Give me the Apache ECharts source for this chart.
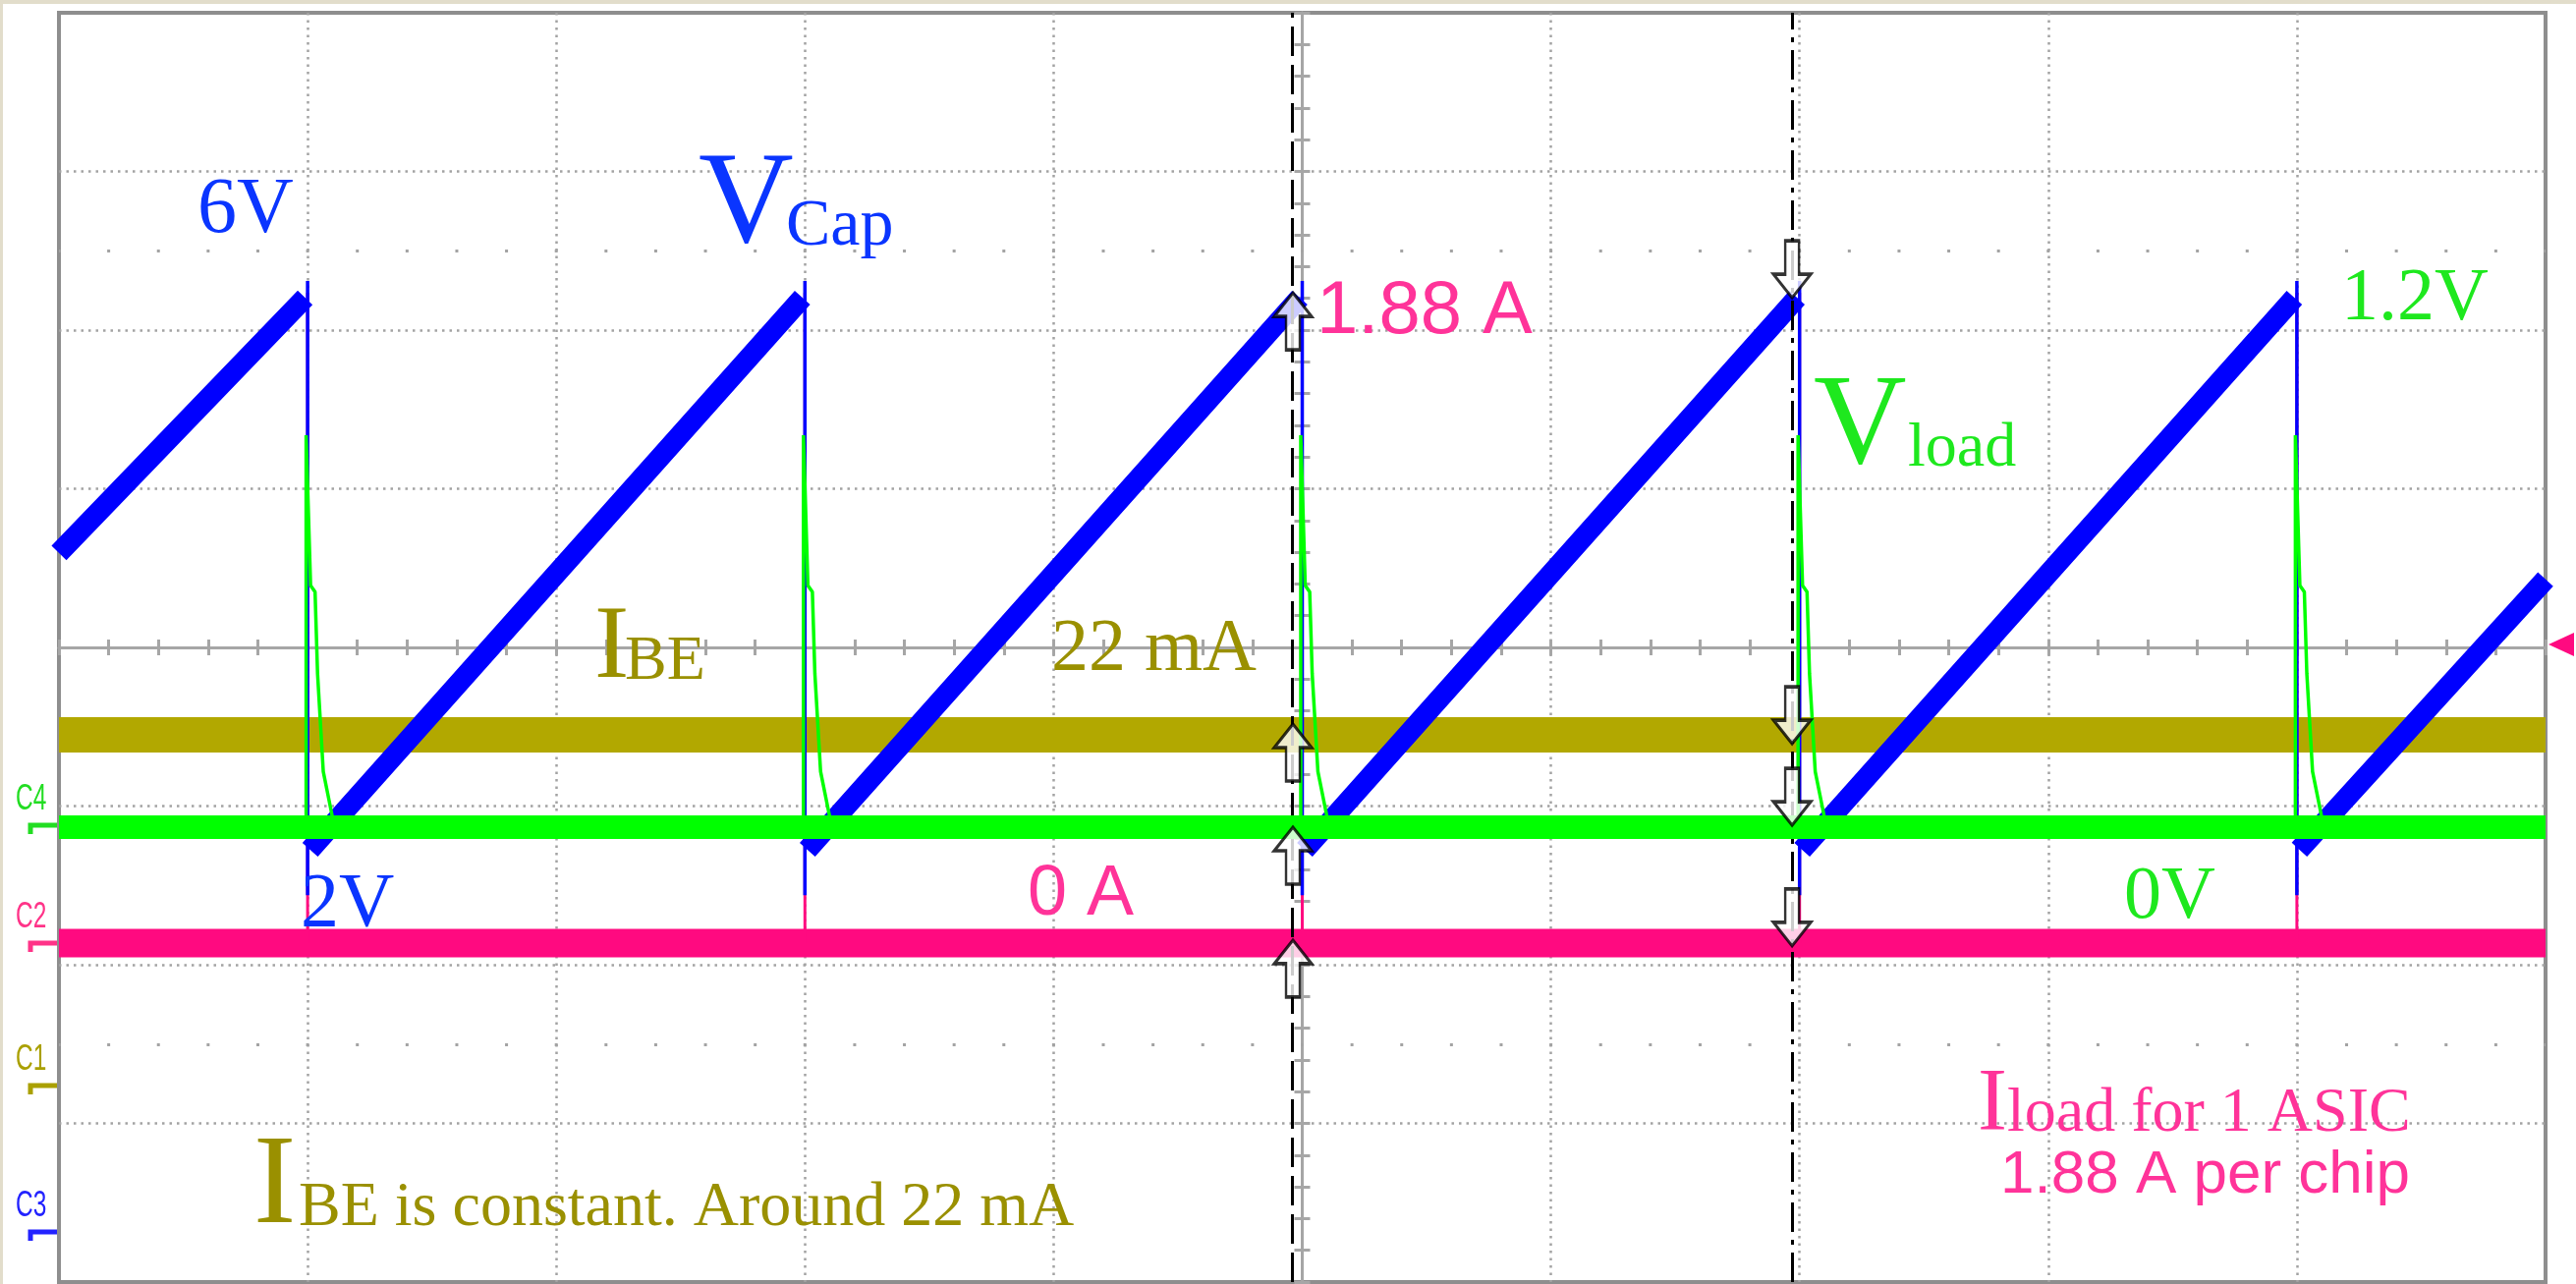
<!DOCTYPE html>
<html>
<head>
<meta charset="utf-8">
<script src="https://cdn.jsdelivr.net/npm/echarts@6/dist/echarts.min.js"></script>
<style>
  html, body { margin: 0; padding: 0; background: #ffffff; }
  #chart { width: 2622px; height: 1307px; }
</style>
</head>
<body>
<div id="chart"></div>
<script>
// ---------------- trace data (time in divisions relative to trigger, -5 … 5) ----------------
const edgeTimes = [-4, -2, 0, 2, 4];              // capacitor discharge instants

// V_Cap charging ramps (V): start / end of each ramp
const vcapRamps = [
  [[-5.00, 4.15], [-4.01, 6.00]],
  [[-3.99, 2.00], [-2.01, 6.00]],
  [[-1.99, 2.00], [-0.01, 6.00]],
  [[ 0.01, 2.00], [ 1.99, 6.00]],
  [[ 2.01, 2.00], [ 3.99, 6.00]],
  [[ 4.01, 2.00], [ 5.00, 3.96]]
];
const vcapDrop = [6.12, 1.67];                     // fast discharge edge, top and bottom (V)

// V_load: settled level and the pulse following each discharge
const vloadLevel = 0;                              // V
const vloadPulseT = [-0.006, -0.006, 0.012, 0.030, 0.040, 0.063, 0.100, 0.145];
const vloadPulseV = [0.00, 1.20, 0.74, 0.72, 0.47, 0.17, 0.03, 0.00];

// I_load for one ASIC (A)
const iloadLevel = 0;
const iloadPeak = 1.88;

// I_BE (mA)
const ibeLevel = 22;

// measurement cursors (div) and their arrow markers (vertical div)
const cursorT = [-0.0375, 1.970];
const cursor1Arrows = [2.235, -0.483, -1.133, -1.845];
const cursor2Arrows = [2.204, -0.607, -1.121, -1.882];

// ---------------- screen placement of each channel ----------------
// zeroDiv: where the channel's zero sits (divisions from centre), perDiv: units per division
const CH = {
  vcap:  { zeroDiv: -3.015, perDiv: 1.1495 },
  vload: { zeroDiv: -1.133, perDiv: 0.4857 },
  iload: { zeroDiv: -1.864, perDiv: 0.4587 },
  ibe:   { zeroDiv: -2.700, perDiv: 10.24 }
};
function chAxis(c) {
  return {
    type: 'value', show: false, position: 'left',
    min: (-4 - c.zeroDiv) * c.perDiv, max: (4 - c.zeroDiv) * c.perDiv,
    splitLine: { show: false }
  };
}

const COL = {
  blue: '#0000ff', green: '#00ff00', pink: '#ff0a80', olive: '#b2a800',
  blueTxt: '#0a35ff', greenTxt: '#1ee81e', pinkTxt: '#ff3399', oliveTxt: '#9a9000'
};

// ---------------- series data assembled from the values above ----------------
const GAP = ['-', '-'];
const vcapRampData = [];
vcapRamps.forEach(seg => { vcapRampData.push(seg[0], seg[1], GAP); });
const vcapDropData = [];
edgeTimes.forEach(t => { vcapDropData.push([t, vcapDrop[0]], [t, vcapDrop[1]], GAP); });
const vloadPulseData = [];
edgeTimes.forEach(t => {
  vloadPulseT.forEach((dt, i) => vloadPulseData.push([t + dt, vloadPulseV[i]]));
  vloadPulseData.push(GAP);
});
const iloadSpikeData = [];
edgeTimes.forEach(t => { iloadSpikeData.push([t, iloadLevel], [t, iloadPeak], [t, iloadLevel], GAP); });

// ---------------- graticule styling ----------------
const GRID_DOT = { color: '#a3a3a3', width: 2.5, type: [2.5, 5] };
const CENTER = { color: '#a6a6a6', width: 3 };

function graticuleX(inside, withSplit) {
  return {
    type: 'value', min: -5, max: 5, interval: 1, position: 'bottom',
    axisLine: { show: true, onZero: true, onZeroAxisIndex: 0, lineStyle: CENTER },
    axisTick: { show: true, inside: inside, length: 8, lineStyle: CENTER },
    minorTick: { show: true, splitNumber: 5, length: 8, lineStyle: CENTER },
    axisLabel: { show: false },
    splitLine: { show: withSplit, showMinLine: false, showMaxLine: false, lineStyle: GRID_DOT }
  };
}
function graticuleY(inside, withSplit) {
  return {
    type: 'value', min: -4, max: 4, interval: 1, position: 'left',
    axisLine: { show: true, onZero: true, onZeroAxisIndex: 0, lineStyle: CENTER },
    axisTick: { show: true, inside: inside, length: 8, lineStyle: CENTER },
    minorTick: { show: true, splitNumber: 5, length: 8, lineStyle: CENTER },
    axisLabel: { show: false },
    splitLine: { show: withSplit, showMinLine: false, showMaxLine: false, lineStyle: GRID_DOT }
  };
}

// ---------------- annotation text ----------------
const SERIF = '"Liberation Serif", "Times New Roman", serif';
const SANS = '"Liberation Sans", Arial, sans-serif';
function txt(text, x, baseline, size, color, family) {
  const k = family === SANS ? 0.33 : 0.31;
  return {
    type: 'text', x: x, y: baseline - k * size, z: 100, silent: true,
    style: { text: text, font: size + 'px ' + family, fill: color,
             align: 'left', verticalAlign: 'middle', textAlign: 'left', textVerticalAlign: 'middle' }
  };
}
function chanTag(text, color, y) {
  return [
    { type: 'text', x: 16, y: y - 26, z: 100, silent: true, scaleX: 0.68,
      style: { text: text, font: '36px ' + SANS, fill: color, align: 'left', verticalAlign: 'middle' } },
    { type: 'polyline', z: 100, silent: true,
      shape: { points: [[31, y + 9], [31, y], [58, y]] },
      style: { stroke: color, lineWidth: 5, fill: null } }
  ];
}

const graphics = [
  { type: 'rect', z: -10, silent: true, shape: { x: 0, y: 0, width: 2622, height: 4 }, style: { fill: '#e2ddcb' } },
  { type: 'rect', z: -10, silent: true, shape: { x: 0, y: 0, width: 3, height: 1307 }, style: { fill: '#e2ddcb' } },
  { type: 'polygon', z: 100, silent: true,
    shape: { points: [[2594, 656], [2620, 644], [2620, 668]] }, style: { fill: COL.pink } },

  txt('6V', 201, 240, 80, COL.blueTxt, SERIF),
  txt('V', 711, 252, 134, COL.blueTxt, SERIF),
  txt('Cap', 800, 252, 68, COL.blueTxt, SERIF),
  txt('1.88 A', 1340, 343, 76, COL.pinkTxt, SANS),
  txt('I', 605, 694, 106, COL.oliveTxt, SERIF),
  txt('BE', 636, 694, 64, COL.oliveTxt, SERIF),
  txt('22 mA', 1070, 686, 76, COL.oliveTxt, SERIF),
  txt('V', 1846, 477, 131, COL.greenTxt, SERIF),
  txt('load', 1942, 477, 64, COL.greenTxt, SERIF),
  txt('1.2V', 2383, 329, 76, COL.greenTxt, SERIF),
  txt('0V', 2162, 938, 76, COL.greenTxt, SERIF),
  txt('0 A', 1046, 935, 72, COL.pinkTxt, SANS),
  txt('2V', 306, 946, 78, COL.blueTxt, SERIF),
  txt('I', 2013, 1154, 90, COL.pinkTxt, SERIF),
  txt('load for 1 ASIC', 2043, 1154, 64, COL.pinkTxt, SERIF),
  txt('1.88 A per chip', 2036, 1217, 62, COL.pinkTxt, SANS),
  txt('I', 258, 1250, 130, COL.oliveTxt, SERIF),
  txt('BE is constant. Around 22 mA', 304, 1250, 64, COL.oliveTxt, SERIF)
].concat(
  chanTag('C4', '#22dd22', 840),
  chanTag('C2', '#ff3388', 960),
  chanTag('C1', '#aaa000', 1105),
  chanTag('C3', '#2222ff', 1254)
);

const UP_ARROW = 'path://M19,0 L38,24 L26,24 L26,58 L12,58 L12,24 L0,24 Z';
const DOWN_ARROW = 'path://M12,0 L26,0 L26,34 L38,34 L19,58 L0,34 L12,34 Z';
const ARROW_STYLE = { color: '#ffffff', borderColor: '#000000', borderWidth: 3 };

const option = {
  animation: false,
  backgroundColor: '#ffffff',
  grid: { left: 60, right: 31, top: 13, bottom: 2, show: true,
          borderColor: '#8e8e8e', borderWidth: 4, backgroundColor: '#ffffff' },
  xAxis: [graticuleX(false, true), graticuleX(true, false)],
  yAxis: [graticuleY(false, true), graticuleY(true, false),
          chAxis(CH.vcap), chAxis(CH.vload), chAxis(CH.iload), chAxis(CH.ibe)],
  graphic: graphics,
  series: [
    { // graticule half-division dot rows
      name: 'graticule', type: 'line', xAxisIndex: 0, yAxisIndex: 0, data: [], z: 1, silent: true,
      markLine: {
        silent: true, symbol: 'none', label: { show: false }, animation: false,
        lineStyle: { color: '#a3a3a3', width: 3, type: [3, 47.62], dashOffset: 1.5 },
        data: [
          [{ coord: [-5, 2.5] }, { coord: [5, 2.5] }],
          [{ coord: [-5, -2.5] }, { coord: [5, -2.5] }]
        ]
      }
    },
    { name: 'IBE', type: 'line', xAxisIndex: 0, yAxisIndex: 5, showSymbol: false, z: 2, silent: true,
      lineStyle: { color: COL.olive, width: 36 }, data: [[-5, ibeLevel], [5, ibeLevel]] },
    { name: 'Iload', type: 'line', xAxisIndex: 0, yAxisIndex: 4, showSymbol: false, z: 3, silent: true,
      lineStyle: { color: COL.pink, width: 29 }, data: [[-5, iloadLevel], [5, iloadLevel]] },
    { name: 'Iload spikes', type: 'line', xAxisIndex: 0, yAxisIndex: 4, showSymbol: false, z: 3, silent: true,
      connectNulls: false, lineStyle: { color: COL.pink, width: 3 }, data: iloadSpikeData },
    { name: 'VCap', type: 'line', xAxisIndex: 0, yAxisIndex: 2, showSymbol: false, z: 4, silent: true,
      connectNulls: false, lineStyle: { color: COL.blue, width: 21, cap: 'butt' }, data: vcapRampData },
    { name: 'VCap edges', type: 'line', xAxisIndex: 0, yAxisIndex: 2, showSymbol: false, z: 4, silent: true,
      connectNulls: false, lineStyle: { color: COL.blue, width: 3.5 }, data: vcapDropData },
    { name: 'Vload', type: 'line', xAxisIndex: 0, yAxisIndex: 3, showSymbol: false, z: 5, silent: true,
      lineStyle: { color: COL.green, width: 24 }, data: [[-5, vloadLevel], [5, vloadLevel]] },
    { name: 'Vload pulses', type: 'line', xAxisIndex: 0, yAxisIndex: 3, showSymbol: false, z: 5, silent: true,
      connectNulls: false, lineStyle: { color: COL.green, width: 3.5 }, data: vloadPulseData },
    { name: 'cursor 1 arrows', type: 'scatter', xAxisIndex: 0, yAxisIndex: 0, z: 7, silent: true,
      symbol: UP_ARROW, symbolSize: [38, 58], symbolOffset: [0, 29], itemStyle: ARROW_STYLE,
      data: cursor1Arrows.map(v => [cursorT[0], v]) },
    { name: 'cursor 2 arrows', type: 'scatter', xAxisIndex: 0, yAxisIndex: 0, z: 7, silent: true,
      symbol: DOWN_ARROW, symbolSize: [38, 58], symbolOffset: [0, -29], itemStyle: ARROW_STYLE,
      data: cursor2Arrows.map(v => [cursorT[1], v]) },
    { // cursor lines, drawn through the arrow markers
      name: 'cursors', type: 'line', xAxisIndex: 0, yAxisIndex: 0, data: [], z: 8, silent: true,
      markLine: {
        silent: true, symbol: 'none', label: { show: false }, animation: false,
        data: [
          { xAxis: cursorT[0], lineStyle: { color: '#000', width: 3, type: [30, 9] } },
          { xAxis: cursorT[1], lineStyle: { color: '#000', width: 3, type: [30, 8, 5, 8] } }
        ]
      }
    }
  ]
};

const chart = echarts.init(document.getElementById('chart'), null, { renderer: 'canvas' });
chart.setOption(option);
</script>
</body>
</html>
